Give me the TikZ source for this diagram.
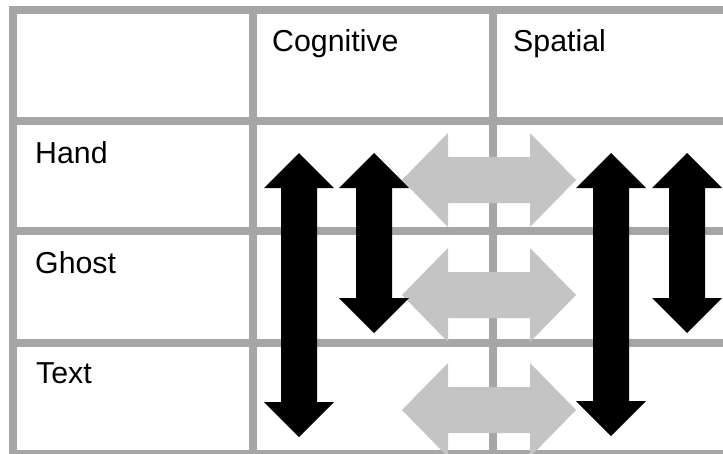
\documentclass[tikz,border=0pt]{standalone}
\usepackage{fontspec}
\setmainfont{Liberation Sans}
\definecolor{gridgray}{HTML}{A6A6A6}
\definecolor{arrowgray}{HTML}{C4C4C4}
% vertical double block arrow: centre x, top tip y, bottom tip y, style
\newcommand\vdblarrow[4]{%
  \fill[#4] (#1,#2) -- ({#1+35},{#2+35}) -- ({#1+18},{#2+35}) -- ({#1+18},{#3-35})
    -- ({#1+35},{#3-35}) -- (#1,#3) -- ({#1-35},{#3-35}) -- ({#1-18},{#3-35})
    -- ({#1-18},{#2+35}) -- ({#1-35},{#2+35}) -- cycle;}
% horizontal double block arrow: centre y, left tip x, right tip x, style
\newcommand\hdblarrow[4]{%
  \fill[#4] (#2,#1) -- ({#2+46},{#1-47}) -- ({#2+46},{#1-23}) -- ({#3-46},{#1-23})
    -- ({#3-46},{#1-47}) -- (#3,#1) -- ({#3-46},{#1+47}) -- ({#3-46},{#1+23})
    -- ({#2+46},{#1+23}) -- ({#2+46},{#1+47}) -- cycle;}
\tikzset{
  gridline/.style={draw=gridgray, line width=8pt, line cap=rect},
  label/.style={anchor=base west, inner sep=0pt, font=\fontsize{30.3}{36}\selectfont},
  blackarrow/.style={fill=black},
  grayarrow/.style={fill=arrowgray},
}
\begin{document}
\begin{tikzpicture}[x=1pt,y=-1pt]
\useasboundingbox (0,0) rectangle (723,453);
\begin{scope}
  \clip (0,0) rectangle (723,453);
  \fill[white] (0,0) rectangle (723,453);
  % horizontal grid lines
  \foreach \yy in {10,121,231,343,454} {
    \draw[gridline] (13,\yy) -- (740,\yy);
  }
  % vertical grid lines
  \foreach \xx in {13,253,493} {
    \draw[gridline] (\xx,10) -- (\xx,454);
  }
  % gray horizontal arrows
  \hdblarrow{180}{402}{576}{grayarrow}
  \hdblarrow{295}{402}{576}{grayarrow}
  \hdblarrow{410}{402}{576}{grayarrow}
  % black vertical arrows
  \vdblarrow{299}{153}{437}{blackarrow}
  \vdblarrow{374}{153}{333}{blackarrow}
  \vdblarrow{611}{153}{436}{blackarrow}
  \vdblarrow{687}{153}{333}{blackarrow}
\end{scope}
% texts
\node[label] (cog) at (272,51) {Cognitive};
\node[label] (spa) at (513,51) {Spatial};
\node[label] (hand) at (35,163) {Hand};
\node[label] (ghost) at (35,273) {Ghost};
\node[label] (text) at (36,383) {Text};
\end{tikzpicture}
\end{document}
